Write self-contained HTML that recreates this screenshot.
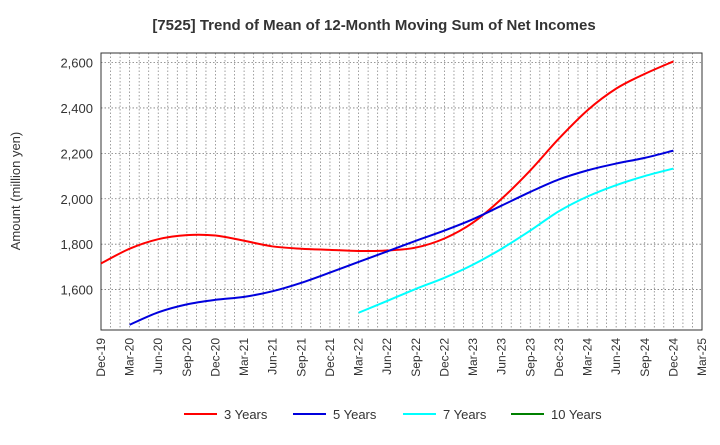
<!DOCTYPE html>
<html><head><meta charset="utf-8"><style>
body{margin:0;background:#fff;font-family:"Liberation Sans",sans-serif}
</style></head><body>
<svg id="c" width="720" height="440" xmlns="http://www.w3.org/2000/svg">
<text x="374" y="30" text-anchor="middle" font-size="15" font-weight="bold" fill="#333">[7525]  Trend of Mean of 12-Month Moving Sum of Net Incomes</text>
<text transform="translate(20,191) rotate(-90)" text-anchor="middle" font-size="13" fill="#333">Amount (million yen)</text>
<g id="grid"></g><g id="axes"></g><g id="series"></g><g id="legend"></g>
</svg>
<script>
const xLabels=["Dec-19","Mar-20","Jun-20","Sep-20","Dec-20","Mar-21","Jun-21","Sep-21","Dec-21","Mar-22","Jun-22","Sep-22","Dec-22","Mar-23","Jun-23","Sep-23","Dec-23","Mar-24","Jun-24","Sep-24","Dec-24","Mar-25"];
const yTicks=[1600,1800,2000,2200,2400,2600];
const s3=[1715,1780,1822,1840,1838,1815,1790,1780,1775,1770,1772,1785,1825,1895,2000,2125,2265,2390,2485,2550,2605];
const s5=[null,1445,1500,1535,1555,1568,1593,1630,1675,1722,1768,1815,1860,1910,1970,2030,2085,2125,2155,2180,2212];
const s7=[null,null,null,null,null,null,null,null,null,1498,1550,1603,1652,1710,1780,1860,1945,2010,2060,2100,2133];
const s10=[];
const names=["3 Years","5 Years","7 Years","10 Years"];
const colors=["#ff0000","#0000dd","#00ffff","#008000"];
const L=101,R=702,T=53,B=330,yMin=1422,yMax=2642;
const X=i=>L+(R-L)*i/(xLabels.length-1);
const Y=v=>B-(v-yMin)/(yMax-yMin)*(B-T);
const NS="http://www.w3.org/2000/svg";
function mk(t,a,p){const e=document.createElementNS(NS,t);for(const k in a)e.setAttribute(k,a[k]);p.appendChild(e);return e;}
const g=document.getElementById('grid');
for(let m=0;m<=63;m++){const x=L+(R-L)*m/63;const l=mk('line',{x1:x,x2:x,y1:T,y2:B,stroke:'#888','stroke-width':0.8,'stroke-dasharray':'1.5,2'},g);
}
const ax=document.getElementById('axes');
yTicks.forEach(v=>{const l=mk('line',{x1:L,x2:R,y1:Y(v),y2:Y(v),stroke:'#777','stroke-width':0.8,'stroke-dasharray':'1.5,2'},g);

const t=mk('text',{x:L-8,y:Y(v)+5,'text-anchor':'end','font-size':13,fill:'#333'},ax);t.textContent=v.toLocaleString('en-US');
});
xLabels.forEach((s,i)=>{const t=mk('text',{transform:`translate(${X(i)+4},338) rotate(-90)`,'text-anchor':'end','font-size':12,fill:'#333'},ax);t.textContent=s;
});
const fr=mk('rect',{x:L,y:T,width:R-L,height:B-T,fill:'none',stroke:'#333','stroke-width':1},ax);

function path(arr){const p=[];arr.forEach((v,i)=>{if(v!=null)p.push([X(i),Y(v)]);});if(p.length<2)return'';
let d=`M${p[0][0]},${p[0][1]}`;for(let i=0;i<p.length-1;i++){const a=p[Math.max(0,i-1)],b=p[i],c=p[i+1],e=p[Math.min(p.length-1,i+2)];
d+=` C${b[0]+(c[0]-a[0])/6},${b[1]+(c[1]-a[1])/6} ${c[0]-(e[0]-b[0])/6},${c[1]-(e[1]-b[1])/6} ${c[0]},${c[1]}`;}return d;}
const sg=document.getElementById('series');
[s3,s5,s7,s10].forEach((s,k)=>{const d=path(s);if(!d)return;const e=mk('path',{d,fill:'none',stroke:colors[k],'stroke-width':2},sg);
});
const lg=document.getElementById('legend');const lx=[184,293,403,511];
names.forEach((n,k)=>{const gg=mk('g',{},lg);
mk('line',{x1:lx[k],x2:lx[k]+33,y1:414,y2:414,stroke:colors[k],'stroke-width':2},gg);
const t=mk('text',{x:lx[k]+40,y:419,'font-size':13,fill:'#333'},gg);t.textContent=n;});
</script>
</body></html>
